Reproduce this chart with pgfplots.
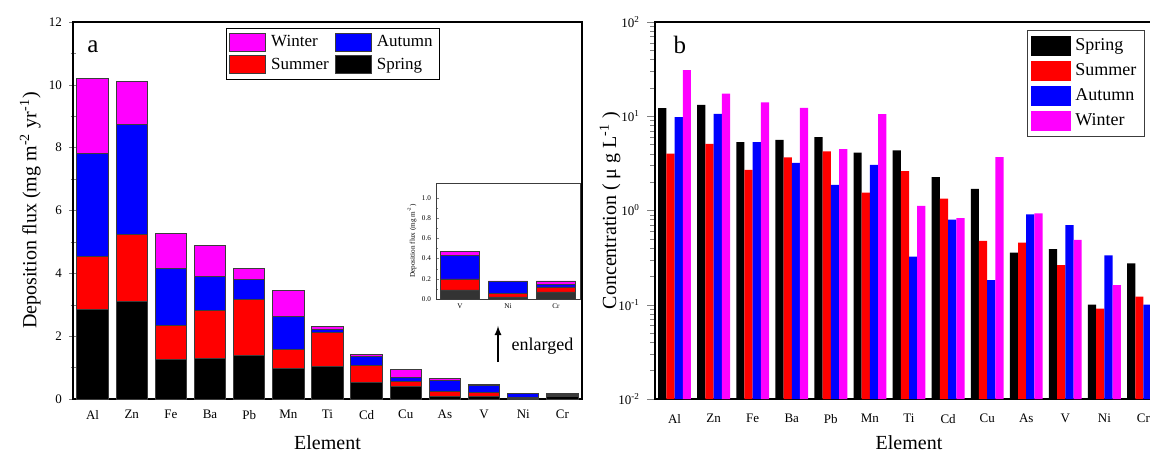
\documentclass[border=0pt]{standalone}
\usepackage{pgfplots}
\pgfplotsset{compat=1.18}
\usepackage{fontspec}
\setmainfont{Liberation Serif}
\definecolor{mag}{RGB}{255,0,255}
\definecolor{edge}{RGB}{60,60,60}
\definecolor{dgray}{RGB}{51,51,51}

\pgfplotsset{
  panel/.style={
    scale only axis, anchor=south west,
    width=254.5pt, height=188.5pt,
    xmin=-0.5, xmax=12.5,
    xtick={0,...,12},
    xticklabels={Al,Zn,Fe,Ba,Pb,Mn,Ti,Cd,Cu,As,V,Ni,Cr},
    x tick style={draw=none},
    ytick pos=left,
    tick label style={font=\fontsize{6.5}{7}\selectfont},
    /pgf/number format/assume math mode=true,
    label style={font=\fontsize{10.5}{12}\selectfont},
    every axis x label/.style={at={(axis description cs:0.5,-0.117)},anchor=center},
    axis line style={line width=0.7pt},
  },
}

\begin{document}
\begin{tikzpicture}

% ---- panel a: stacked deposition flux
\begin{axis}[panel,
  at={(36.5pt,28pt)},
  ybar stacked, bar width=0.8,
  ymin=0, ymax=12,
  ytick={0,2,...,12}, minor y tick num=1,
  tick align=center, major tick length=4pt, minor tick length=2.5pt,
  xlabel={Element},
  ylabel={Deposition flux (mg m\textsuperscript{-2} yr\textsuperscript{-1})},
  every axis y label/.style={at={(axis description cs:-0.084,0.5)},rotate=90,anchor=center},
  reverse legend, legend columns=2,
  legend style={at={(0.30,0.984)}, anchor=north west, draw=black, line width=0.5pt,
    font=\fontsize{8.5}{10}\selectfont, row sep=0pt, inner sep=1.5pt,
    /tikz/every odd column/.append style={column sep=0.5pt},
    /tikz/every even column/.append style={column sep=1pt}},
  legend cell align=left,
  legend image code/.code={\draw[#1,line width=0.5pt] (0pt,-4.5pt) rectangle (18pt,4.5pt);},
]
\addplot[fill=black, draw=edge, line width=0.5pt] coordinates {
  (0,2.86) (1,3.09) (2,1.25) (3,1.28) (4,1.39) (5,0.96) (6,1.03)
  (7,0.52) (8,0.40) (9,0.07) (10,0.09) (11,0.02) (12,0.07)};
\addlegendentry{Spring}
\addplot[fill=red, draw=edge, line width=0.5pt] coordinates {
  (0,1.67) (1,2.14) (2,1.10) (3,1.54) (4,1.78) (5,0.63) (6,1.08)
  (7,0.55) (8,0.16) (9,0.165) (10,0.11) (11,0.035) (12,0.05)};
\addlegendentry{Summer}
\addplot[fill=blue, draw=edge, line width=0.5pt] coordinates {
  (0,3.27) (1,3.52) (2,1.81) (3,1.08) (4,0.62) (5,1.03) (6,0.11)
  (7,0.28) (8,0.11) (9,0.345) (10,0.23) (11,0.12) (12,0.025)};
\addlegendentry{Autumn}
\addplot[fill=mag, draw=edge, line width=0.5pt] coordinates {
  (0,2.40) (1,1.35) (2,1.11) (3,0.99) (4,0.35) (5,0.83) (6,0.10)
  (7,0.06) (8,0.27) (9,0.06) (10,0.04) (11,0.005) (12,0.035)};
\addlegendentry{Winter}
\node[font=\fontsize{12.5}{14}\selectfont] at (axis description cs:0.039,0.934) {a};
\draw[-latex, line width=0.6pt] (axis description cs:0.835,0.098) -- (axis description cs:0.835,0.194);
\node[anchor=west, font=\fontsize{9}{11}\selectfont] at (axis description cs:0.848,0.141) {enlarged};
\end{axis}

% ---- inset
\begin{axis}[
  at={(218pt,78pt)}, anchor=south west, scale only axis,
  width=72pt, height=58pt,
  ybar stacked, bar width=0.82,
  xmin=-0.5, xmax=2.5, ymin=0, ymax=1.15,
  xtick={0,1,2}, xticklabels={V,Ni,Cr}, x tick style={draw=none},
  ytick={0,0.2,...,1.0}, minor y tick num=1, ytick pos=left,
  tick align=inside, major tick length=1.5pt, minor tick length=1pt,
  yticklabel style={/pgf/number format/fixed, /pgf/number format/fixed zerofill, /pgf/number format/precision=1},
  /pgf/number format/assume math mode=true,
  tick label style={font=\fontsize{3.6}{4}\selectfont},
  xticklabel style={yshift=1pt},
  yticklabel style={xshift=1pt},
  ylabel={Deposition flux (mg m\textsuperscript{-2})},
  every axis y label/.style={at={(axis description cs:-0.167,0.5)},rotate=90,anchor=center,font=\fontsize{3.6}{4}\selectfont},
  axis line style={line width=0.4pt, draw=edge},
]
\addplot[fill=dgray, draw=edge, line width=0.3pt] coordinates {(0,0.09) (1,0.02) (2,0.07)};
\addplot[fill=red, draw=edge, line width=0.3pt] coordinates {(0,0.11) (1,0.035) (2,0.05)};
\addplot[fill=blue, draw=edge, line width=0.3pt] coordinates {(0,0.23) (1,0.12) (2,0.025)};
\addplot[fill=mag, draw=edge, line width=0.3pt] coordinates {(0,0.04) (1,0.005) (2,0.035)};
\end{axis}

% ---- panel b: concentration, log scale
\begin{axis}[panel,
  at={(327.5pt,28pt)}, width=254pt,
  ymode=log, ymin=0.01, ymax=100, log origin y=infty,
  ybar, bar width=0.21,
  ytick={0.01,0.1,1,10,100},
  yticklabels={10\textsuperscript{-2},10\textsuperscript{-1},10\textsuperscript{0},10\textsuperscript{1},10\textsuperscript{2}},
  tick align=outside, major tick length=4pt, minor tick length=2.5pt,
  xlabel={Element},
  ylabel={Concentration ( μ g L\textsuperscript{-1} )},
  every axis y label/.style={at={(axis description cs:-0.0886,0.5)},rotate=90,anchor=center},
  legend style={at={(0.732,0.979)}, anchor=north west, draw=edge, line width=0.5pt,
    font=\fontsize{9}{10}\selectfont, row sep=1pt, inner sep=2pt},
  legend cell align=left,
  legend image code/.code={\fill[#1] (0pt,-5pt) rectangle (20pt,5pt);},
]
\addplot[fill=black, draw=none, bar shift=-0.315] coordinates {
  (0,12.2) (1,13.2) (2,5.3) (3,5.6) (4,6.0) (5,4.1) (6,4.35)
  (7,2.26) (8,1.70) (9,0.357) (10,0.389) (11,0.10) (12,0.275)};
\addlegendentry{Spring}
\addplot[fill=red, draw=none, bar shift=-0.105] coordinates {
  (0,4.0) (1,5.1) (2,2.7) (3,3.66) (4,4.25) (5,1.55) (6,2.62)
  (7,1.34) (8,0.475) (9,0.457) (10,0.264) (11,0.091) (12,0.122)};
\addlegendentry{Summer}
\addplot[fill=blue, draw=none, bar shift=0.105] coordinates {
  (0,9.8) (1,10.6) (2,5.3) (3,3.2) (4,1.87) (5,3.05) (6,0.324)
  (7,0.80) (8,0.183) (9,0.91) (10,0.70) (11,0.334) (12,0.10)};
\addlegendentry{Autumn}
\addplot[fill=mag, draw=none, bar shift=0.315] coordinates {
  (0,30.9) (1,17.4) (2,14.0) (3,12.3) (4,4.49) (5,10.5) (6,1.12)
  (7,0.83) (8,3.69) (9,0.93) (10,0.487) (11,0.162)};
\addlegendentry{Winter}
\node[font=\fontsize{12.5}{14}\selectfont] at (axis description cs:0.049,0.939) {b};
\end{axis}

\pgfresetboundingbox
\path[use as bounding box] (0pt,0pt) rectangle (575pt,227.5pt);
\end{tikzpicture}
\end{document}
